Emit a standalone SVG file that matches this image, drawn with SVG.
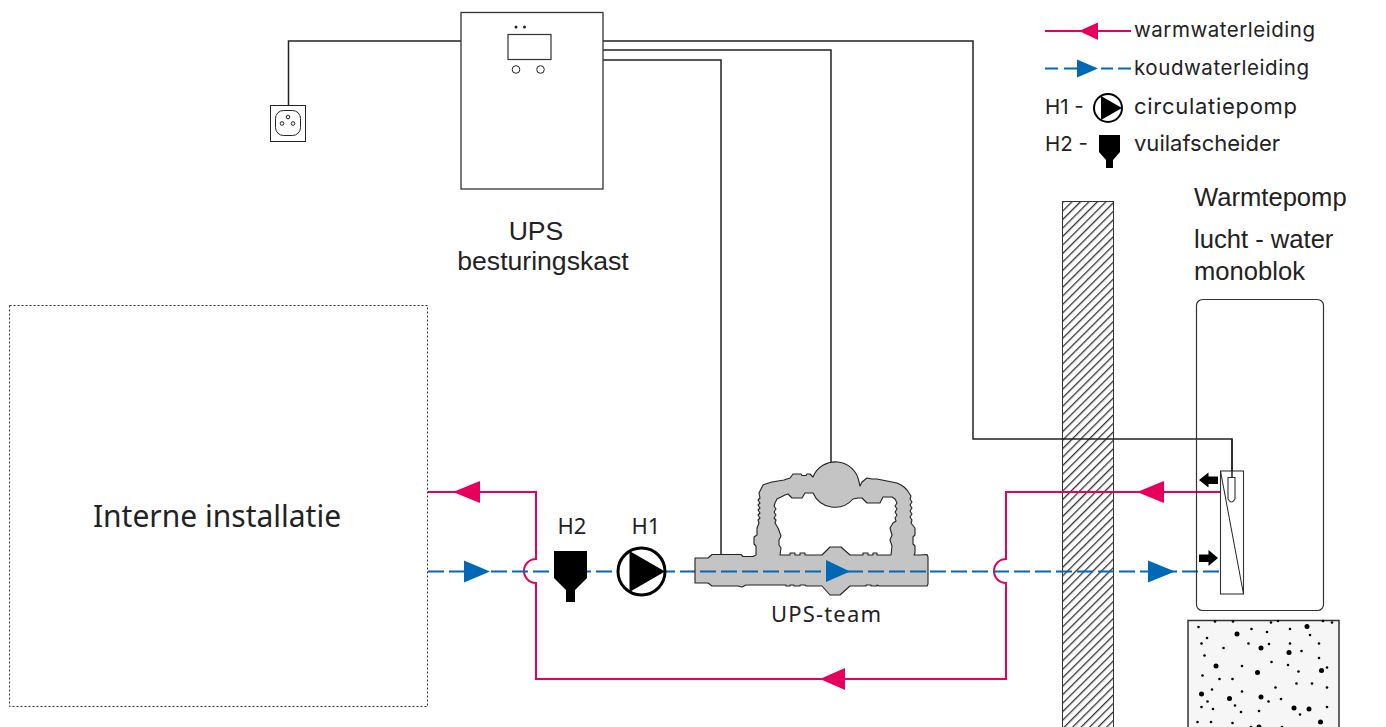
<svg xmlns="http://www.w3.org/2000/svg" width="1386" height="727" viewBox="0 0 1386 727">
<style>
.w{fill:none;stroke:#222;stroke-width:1.500}
.t{fill:none;stroke:#222;stroke-width:1}
.hot{fill:none;stroke:#e6005c;stroke-width:2}
.cold{fill:none;stroke:#0068b4;stroke-width:2;stroke-dasharray:16 5}
.ha{fill:#e6005c}.ca{fill:#0068b4}
.leg{font-family:"Inter","Noto Sans",sans-serif;font-size:20.500px;fill:#222}
.legb{font-family:"Inter","Noto Sans",sans-serif;font-size:22px;fill:#222}
.lab{font-family:"Noto Sans","Open Sans",sans-serif;font-size:22px;fill:#222}
.ar{font-family:"Liberation Sans",Arial,sans-serif;font-size:25.600px;fill:#222}
.ups{font-family:"Liberation Sans",Arial,sans-serif;font-size:26.600px;fill:#222}
.dot{fill:#000}
</style>
<defs>
<pattern id="hatch" width="6" height="6" patternUnits="userSpaceOnUse" patternTransform="rotate(45)">
<rect width="6" height="6" fill="#fff"/><rect width="1.300" height="6" fill="#333"/>
</pattern>
</defs>

<g id="hatch-wall"><rect x="1062.500" y="201.500" width="51" height="526" fill="url(#hatch)" stroke="#333" stroke-width="1"/></g>

<g id="internal-installation">
<rect x="9.500" y="305.500" width="418" height="401" fill="none" stroke="#333" stroke-width="1" stroke-dasharray="2 2"/>
<text x="217" y="527" text-anchor="middle" font-family="'Noto Sans','Open Sans',sans-serif" font-size="30" fill="#222">Interne installatie</text>
</g>

<g id="connectors">
<path class="w" d="M461 41H288.500V105"/>
<path class="w" d="M603 41H973V439H1232V478"/>
<path class="w" d="M603 50H831V462"/>
<path class="w" d="M603 60H721V555"/>
<path class="hot" d="M428 492H536V559A12 12 0 0 0 536 583V679H1006V583A12 12 0 0 1 1006 559V492H1220"/>
<path class="cold" d="M428 571.500H695"/>
<path class="cold" d="M930 571.500H1220"/>
<path class="ha" d="M453 492L480 481V503Z"/>
<path class="ca" d="M490 571.500L464 560.500V582.500Z"/>
<path class="ha" d="M1137 492L1164 481V503Z"/>
<path class="ca" d="M1175 571.500L1148 560.500V582.500Z"/>
<path class="ha" d="M820 679L845 668V690Z"/>
</g>

<g id="socket">
<rect x="270.500" y="105.500" width="35" height="36" fill="#fff" stroke="#222" stroke-width="1"/>
<rect x="275.500" y="110.500" width="25" height="25" rx="8" fill="none" stroke="#222" stroke-width="1"/>
<circle cx="288" cy="117" r="1.800" class="t"/><circle cx="282" cy="123.500" r="1.800" class="t"/><circle cx="293" cy="123.500" r="1.800" class="t"/>
</g>

<g id="control-box">
<rect x="461" y="12.500" width="142" height="176.500" fill="#fff" stroke="#333" stroke-width="1.300"/>
<circle cx="516" cy="27" r="1.500" fill="#222"/><circle cx="524.500" cy="27" r="1.500" fill="#222"/>
<rect x="508" y="34.500" width="43" height="25" fill="none" stroke="#333" stroke-width="1.200"/>
<circle cx="516" cy="69.500" r="3.800" class="t"/><circle cx="540.500" cy="69.500" r="3.800" class="t"/>
<text x="536" y="240" text-anchor="middle" class="ups">UPS</text>
<text x="543" y="270" text-anchor="middle" class="ups">besturingskast</text>
</g>

<g id="h2-filter">
<path d="M554 551H587V578L575 590V602H566V590L554 578Z" fill="#000"/>
<text x="572" y="534" text-anchor="middle" class="lab">H2</text>
</g>

<g id="h1-pump">
<circle cx="641.500" cy="571.500" r="23.500" fill="#fff" stroke="#000" stroke-width="3"/>
<path d="M629.500 551L665 571.500L629.500 592Z" fill="#000"/>
<text x="646" y="534" text-anchor="middle" class="lab">H1</text>
</g>

<g id="ups-team">
<path fill="#c4c4c4" fill-rule="evenodd" stroke="#222" stroke-width="1.100" stroke-linejoin="round" d="M695 558H708L712 554.500H741L743 556.500H753L756 555V546L754 544V537L757 535V528L759 523L758 520L760 518L758 515L760 513L758 510L760 508L758 505L760 503L758 500L760 498L759 493L763 485L767 483.500L772 482L778 481L784 480L790 478L793 474H801L802 475.500H806L807 474H810L813 477 A24 24 0 0 1 859 482L860 486L862 482L867 478L872 479L877 479L882 480L887 481L892 482L897 483L901 485L904 487L907 490L909 493L911 496L910 499L912 502L910 505L912 508L910 511L912 514L910 517L912 520L911 523L915 528V535L913 537V544L915 546V553L914 555H920L927 554.500L928 557V584L927 586H879L877 585V586H871V585H866V586H860V586H850L840 595H830L822 586H806L805 585H800V586H794V585H790V586H786V585H757H746L742 587L738 586H712L708 583H695ZM780 555L781 548L779 545V540L781 536L778 528L775 523L776 520L774 518L776 515L774 512L776 509L774 506L775 503L777 499L781 497L785 495L788 494L792 498H802L805 493H813 A24 24 0 0 0 853 499L858 498H862L867 503H880L883 497H889L892 497L895 499L897 503L895 506L897 509L895 512L897 515L895 518L896 521L893 523L890 528L892 535L890 540L892 546L891 555H877V553H873V555H868V553H863V555H850L841 547H830L822 555H805V553H800V555H795V553H790V555Z"/>
<path class="cold" d="M700 571.500H930"/>
<path class="ca" d="M850 571.500L826 560V582Z"/>
<text x="771" y="622" textLength="110" lengthAdjust="spacing" class="lab">UPS-team</text>
</g>

<g id="heat-pump">
<text x="1194" y="206" class="ar">Warmtepomp</text>
<text x="1194" y="248" class="ar">lucht - water</text>
<text x="1194" y="280" class="ar">monoblok</text>
<rect x="1196.500" y="299.500" width="127" height="311" rx="6" fill="none" stroke="#333" stroke-width="1.200"/>
<rect x="1220.500" y="471" width="23" height="123" fill="#fff" stroke="#333" stroke-width="1.100"/>
<path class="t" d="M1220.500 471L1243.500 594"/>
<path d="M1228 477.500H1235V499Q1231.500 505 1228 499Z" fill="#fff" stroke="#333" stroke-width="1.100"/>
<path class="w" d="M1232 439V478"/>
<path d="M1199 480L1208.500 472.500V476.500H1218V484H1208.500V487.500Z" fill="#000"/>
<path d="M1218 558L1208.500 550V554.500H1199V562H1208.500V566Z" fill="#000"/>
</g>

<g id="concrete">
<path d="M1188 727V620.500H1339V727" fill="#f6f6f6" stroke="#333" stroke-width="1.500"/>
<g class="dot">
<circle cx="1198.500" cy="627" r="1.300"/><circle cx="1215" cy="621.500" r="1.300"/><circle cx="1233" cy="621.500" r="1.300"/><circle cx="1271" cy="622.500" r="1.300"/><circle cx="1278" cy="621" r="1.300"/><circle cx="1323" cy="621" r="1.300"/><circle cx="1332" cy="622.500" r="1.300"/>
<circle cx="1237" cy="634" r="2.500"/><circle cx="1207" cy="638" r="1.300"/><circle cx="1251.500" cy="629" r="1.300"/><circle cx="1267" cy="632" r="1.300"/><circle cx="1290" cy="629" r="1.300"/><circle cx="1307" cy="626.500" r="2.500"/><circle cx="1310" cy="635" r="1.300"/>
<circle cx="1201.500" cy="643.500" r="1.300"/><circle cx="1248.500" cy="643.500" r="1.300"/><circle cx="1261" cy="648" r="2.500"/><circle cx="1269" cy="644" r="1.300"/><circle cx="1290" cy="643.500" r="1.300"/><circle cx="1319" cy="643.500" r="1.300"/><circle cx="1223.500" cy="648" r="1.300"/>
<circle cx="1289" cy="652.500" r="2.500"/><circle cx="1301.500" cy="651" r="1.300"/><circle cx="1204.500" cy="655.500" r="1.300"/><circle cx="1319" cy="658" r="1.300"/><circle cx="1271.500" cy="662" r="1.300"/><circle cx="1288" cy="665" r="1.300"/>
<circle cx="1216" cy="666" r="2.500"/><circle cx="1242" cy="666" r="1.300"/><circle cx="1257.500" cy="672.500" r="2.500"/><circle cx="1298.500" cy="671.500" r="1.300"/><circle cx="1321.500" cy="670.500" r="2.500"/><circle cx="1327" cy="667.500" r="1.300"/>
<circle cx="1202.500" cy="675.500" r="1.300"/><circle cx="1219.500" cy="679" r="1.300"/><circle cx="1232.500" cy="679" r="1.300"/><circle cx="1296.500" cy="683.500" r="1.300"/><circle cx="1312" cy="683.500" r="1.300"/><circle cx="1275.500" cy="687.500" r="1.300"/><circle cx="1327" cy="687.500" r="1.300"/>
<circle cx="1212" cy="689.500" r="1.300"/><circle cx="1242" cy="691.500" r="1.300"/><circle cx="1201.500" cy="694" r="2.500"/><circle cx="1261" cy="697" r="2.500"/><circle cx="1229.500" cy="698.500" r="2.500"/><circle cx="1268.500" cy="701.500" r="1.300"/><circle cx="1281" cy="699" r="1.300"/><circle cx="1207.500" cy="701.500" r="1.300"/>
<circle cx="1201.500" cy="707" r="1.300"/><circle cx="1213" cy="709" r="1.300"/><circle cx="1235" cy="705.500" r="1.300"/><circle cx="1294" cy="708" r="2.500"/><circle cx="1309" cy="709" r="2.500"/><circle cx="1327" cy="707" r="1.300"/><circle cx="1241" cy="712" r="1.300"/><circle cx="1259" cy="711" r="1.300"/><circle cx="1300" cy="714.500" r="1.300"/>
<circle cx="1197.500" cy="722" r="1.300"/><circle cx="1211" cy="722" r="1.300"/><circle cx="1232.500" cy="723" r="1.300"/><circle cx="1251" cy="727" r="1.300"/><circle cx="1259" cy="727" r="2.500"/><circle cx="1282" cy="727" r="1.300"/><circle cx="1320.500" cy="722" r="2.500"/>
</g>
</g>

<g id="legend">
<path d="M1045 31H1131" fill="none" stroke="#e6005c" stroke-width="2"/>
<path class="ha" d="M1079 31L1098 22.500V40Z"/>
<path d="M1045 68.500H1058M1064 68.500H1077M1101 68.500H1113M1118 68.500H1131" fill="none" stroke="#0068b4" stroke-width="2"/>
<path class="ca" d="M1098 68.500L1077 59.500V77.500Z"/>
<text x="1134" y="37" textLength="181" lengthAdjust="spacing" class="leg">warmwaterleiding</text>
<text x="1134" y="75" textLength="175" lengthAdjust="spacing" class="leg">koudwaterleiding</text>
<text x="1134" y="114" textLength="163" lengthAdjust="spacing" class="legb">circulatiepomp</text>
<text x="1134" y="151" textLength="146" lengthAdjust="spacing" class="legb">vuilafscheider</text>
<text x="1045" y="114" class="leg">H1 -</text>
<text x="1045" y="151" class="leg">H2 -</text>
<circle cx="1108" cy="108" r="14" fill="#fff" stroke="#000" stroke-width="2"/>
<path d="M1101 96L1122 108L1101 120Z" fill="#000"/>
<path d="M1099 135H1120V152L1113 160V168H1106V160L1099 152Z" fill="#000"/>
</g>
</svg>
